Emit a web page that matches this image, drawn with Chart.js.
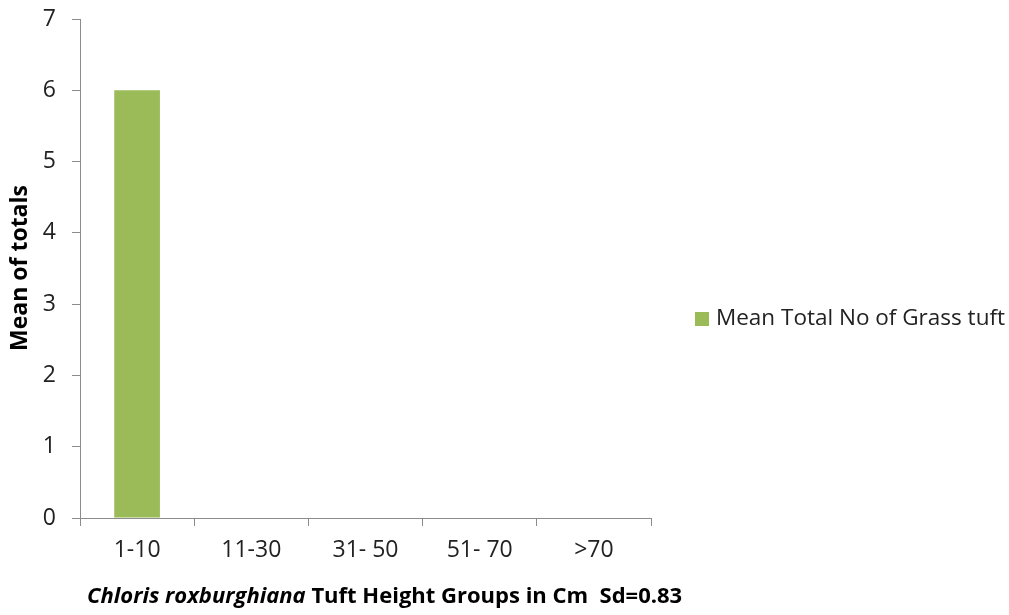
<!DOCTYPE html>
<html>
<head>
<meta charset="utf-8">
<script src="https://cdn.jsdelivr.net/npm/chart.js@4/dist/chart.umd.min.js"></script>
<style>
  html, body { margin:0; padding:0; background:#fff; }
  #wrap { width:1009px; height:615px; position:relative; }
</style>
</head>
<body>
<div id="wrap"><canvas id="c"></canvas></div>
<script>
// -------------------- data
var categories = ['1-10', '11-30', '31- 50', '51- 70', '>70'];
var meanTufts = [6, 0, 0, 0, 0];
var seriesLabel = 'Mean Total No of Grass tuft';
var yTicks = [0, 1, 2, 3, 4, 5, 6, 7];
var xTitleItalic = 'Chloris roxburghiana';
var xTitleRest = ' Tuft Height Groups in Cm  Sd=0.83';
var yTitle = 'Mean of totals';

var FONT = "'Open Sans', 'Liberation Sans', sans-serif";
var axisGrey = '#8c8c8c';

// draws the legend and the two axis titles (x title has mixed styles)
var extras = {
	id: 'extras',
	afterDraw: function(chart){
		var ctx = chart.ctx;
		var ds = chart.data.datasets[0];
		ctx.save();

		// legend
		ctx.fillStyle = ds.backgroundColor;
		ctx.fillRect(695, 312, 14, 14);
		ctx.fillStyle = '#222';
		ctx.font = '22.5px ' + FONT;
		ctx.textBaseline = 'middle';
		ctx.textAlign = 'left';
		ctx.fillText(ds.label, 716, 319);

		// y title
		ctx.save();
		ctx.translate(20, 268);
		ctx.rotate(-Math.PI/2);
		ctx.textAlign = 'center';
		ctx.font = 'bold 23px ' + FONT;
		ctx.fillStyle = '#000';
		ctx.fillText(yTitle, 0, 0);
		ctx.restore();

		// x title
		var x0 = 87, y0 = 597;
		ctx.fillStyle = '#000';
		ctx.textAlign = 'left';
		ctx.font = 'italic bold 22px ' + FONT;
		ctx.fillText(xTitleItalic, x0, y0);
		var w = ctx.measureText(xTitleItalic).width;
		ctx.font = 'bold 22px ' + FONT;
		ctx.fillText(xTitleRest, x0 + w, y0);

		ctx.restore();
	}
};

var ctx = document.getElementById('c').getContext('2d');
window.chart1 = new Chart(ctx, {
	type: 'bar',
	data: {
		labels: categories,
		datasets: [{
			label: seriesLabel,
			data: meanTufts,
			backgroundColor: '#9BBB59',
			borderWidth: 0,
			barPercentage: 0.4,
			categoryPercentage: 1.0
		}]
	},
	options: {
		responsive: true,
		maintainAspectRatio: false,
		animation: false,
		layout: { padding: { left: 0, right: 358, top: 19, bottom: 0 } },
		plugins: {
			legend: { display: false },
			tooltip: { enabled: false }
		},
		scales: {
			x: {
				offset: true,
				grid: { drawOnChartArea: false, tickLength: 8, color: axisGrey, offset: true },
				border: { color: axisGrey, width: 1 },
				ticks: { color: '#222', font: { family: FONT, size: 23 }, padding: 11, maxRotation: 0 },
				afterFit: function(s){ s.height = 97; s.paddingLeft = 0; s.paddingRight = 0; }
			},
			y: {
				min: 0, max: 7,
				afterBuildTicks: function(s){ s.ticks = yTicks.map(function(v){ return {value: v}; }); },
				grid: { drawOnChartArea: false, tickLength: 8, color: axisGrey },
				border: { color: axisGrey, width: 1 },
				ticks: { color: '#222', font: { family: FONT, size: 23 }, padding: 16 },
				afterFit: function(s){ s.width = 80; s.paddingTop = 0; s.paddingBottom = 0; }
			}
		}
	},
	plugins: [extras]
});
</script>
</body>
</html>
